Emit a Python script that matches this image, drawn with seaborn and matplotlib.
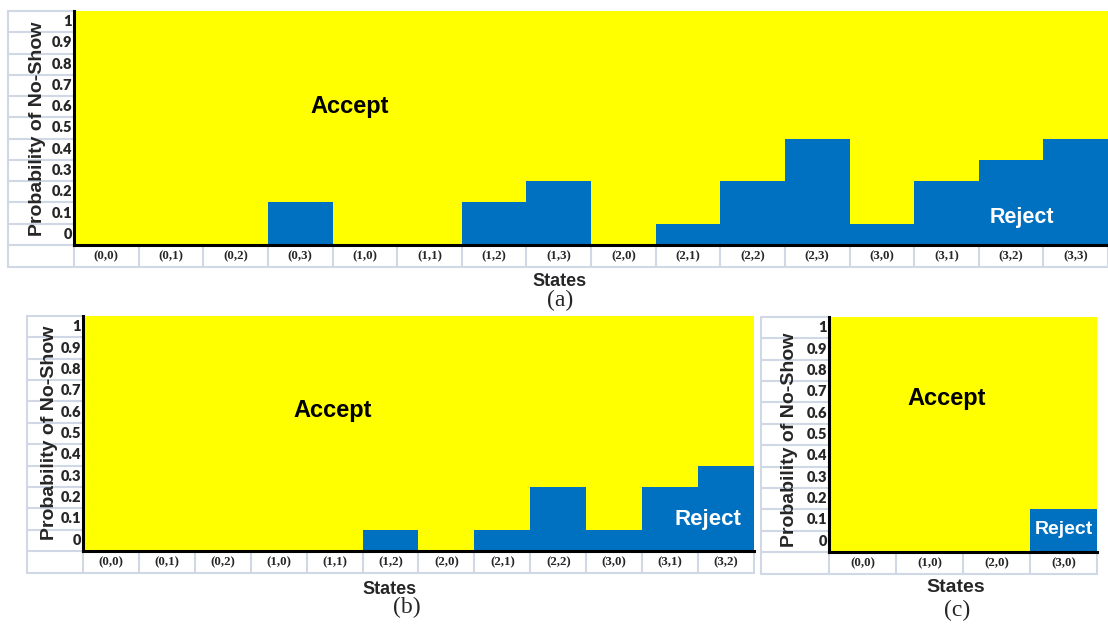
import numpy as np
import pandas as pd
import matplotlib
matplotlib.use("Agg")
import matplotlib.pyplot as plt
from matplotlib.colors import ListedColormap
import seaborn as sns

# Probability rows, listed top to bottom as they appear on the axis
prob_labels = ['1', '0.9', '0.8', '0.7', '0.6', '0.5', '0.4', '0.3', '0.2', '0.1', '0']

# Number of probability rows (counted upward from 0) that fall in the reject region
states_a = ['(0,0)', '(0,1)', '(0,2)', '(0,3)', '(1,0)', '(1,1)', '(1,2)', '(1,3)',
            '(2,0)', '(2,1)', '(2,2)', '(2,3)', '(3,0)', '(3,1)', '(3,2)', '(3,3)']
reject_levels_a = [0, 0, 0, 2, 0, 0, 2, 3, 0, 1, 3, 5, 1, 3, 4, 5]

states_b = ['(0,0)', '(0,1)', '(0,2)', '(1,0)', '(1,1)', '(1,2)',
            '(2,0)', '(2,1)', '(2,2)', '(3,0)', '(3,1)', '(3,2)']
reject_levels_b = [0, 0, 0, 0, 0, 1, 0, 1, 3, 1, 3, 4]

states_c = ['(0,0)', '(1,0)', '(2,0)', '(3,0)']
reject_levels_c = [0, 0, 0, 2]

ACCEPT_COLOR = '#FFFF00'
REJECT_COLOR = '#0070C0'
GRID_COLOR = '#D0D7E5'

sns.set_style('white')
W, H = 1108, 626
fig = plt.figure(figsize=(W / 100, H / 100), dpi=100)
fig.patch.set_facecolor('white')


def fx(x):
    return x / W


def fy(y):
    return 1 - y / H


def decision_table(states, levels):
    row_level = np.arange(len(prob_labels))[::-1]          # 10 ... 0
    mat = (row_level[:, None] < np.asarray(levels)[None, :]).astype(int)
    return pd.DataFrame(mat, index=prob_labels, columns=states)


def panel(box, table_left, table_bottom, states, levels, ylab_pos,
          accept_pos, reject_pos, reject_size, states_pos, states_size,
          caption, caption_pos):
    left, top, right, bottom = box
    ax = fig.add_axes([fx(left), fy(bottom), fx(right - left), (bottom - top) / H])
    df = decision_table(states, levels)
    sns.heatmap(df, ax=ax, cmap=ListedColormap([ACCEPT_COLOR, REJECT_COLOR]),
                vmin=0, vmax=1, cbar=False, xticklabels=True, yticklabels=True)
    ax.set_xlabel('')
    ax.set_ylabel('')
    ax.tick_params(axis='both', length=0)
    ax.tick_params(axis='y', pad=1.5)
    ax.tick_params(axis='x', pad=4)
    for lab in ax.get_yticklabels():
        lab.set_fontfamily('Lato')
        lab.set_fontweight('heavy')
        lab.set_fontsize(10.5)
        lab.set_rotation(0)
        lab.set_va('center')
    for lab in ax.get_xticklabels():
        lab.set_fontfamily('Liberation Serif')
        lab.set_fontweight('bold')
        lab.set_fontsize(9.3)
        lab.set_rotation(0)

    for s in ['left', 'bottom']:
        ax.spines[s].set_visible(True)
        ax.spines[s].set_color('black')
        ax.spines[s].set_linewidth(2.2)
        ax.spines[s].set_zorder(5)

    # spreadsheet-style cell lines around the tick labels
    n = len(states)
    gx0 = (table_left - left) / (right - left)
    gy1 = -(table_bottom - bottom) / (bottom - top)
    ytr = ax.get_yaxis_transform()
    xtr = ax.get_xaxis_transform()
    kw = dict(color=GRID_COLOR, lw=1.5, clip_on=False, zorder=1)
    for k in range(len(prob_labels) + 1):
        ax.plot([gx0, 0], [k, k], transform=ytr, **kw)
    ax.plot([gx0, 1], [gy1, gy1], transform=ax.transAxes, **kw)
    ax.plot([gx0, gx0], [1, gy1], transform=ax.transAxes, **kw)
    for i in range(n + 1):
        ax.plot([i, i], [0, gy1], transform=xtr, **kw)

    fig.text(fx(ylab_pos[0]), fy(ylab_pos[1]), 'Probability of No-Show', rotation=90,
             ha='center', va='center', family='Liberation Sans', weight='bold', fontsize=14)
    fig.text(fx(accept_pos[0]), fy(accept_pos[1]), 'Accept', ha='center', va='center',
             family='Liberation Sans', weight='bold', fontsize=17, color='black')
    fig.text(fx(reject_pos[0]), fy(reject_pos[1]), 'Reject', ha='center', va='center',
             family='Liberation Sans', weight='bold', fontsize=reject_size, color='white')
    fig.text(fx(states_pos[0]), fy(states_pos[1]), 'States', ha='center', va='center',
             family='Liberation Sans', weight='bold', fontsize=states_size)
    fig.text(fx(caption_pos[0]), fy(caption_pos[1]), caption, ha='center', va='center',
             family='Liberation Serif', fontsize=17)
    return ax


panel((74, 11, 1108, 245), 8, 267, states_a, reject_levels_a, (38, 129),
      (350, 107), (1022, 217), 15.5, (560, 281), 13, '(a)', (560, 300))
panel((83, 316, 754, 551), 27, 573, states_b, reject_levels_b, (50, 433),
      (333, 410), (708, 519), 16, (390, 590), 13, '(b)', (407, 607))
panel((829, 317, 1097, 552), 761, 574, states_c, reject_levels_c, (789, 440),
      (947, 399), (1064, 530), 14, (956, 587), 14, '(c)', (957, 610))

fig.savefig('out.png', dpi=100)
